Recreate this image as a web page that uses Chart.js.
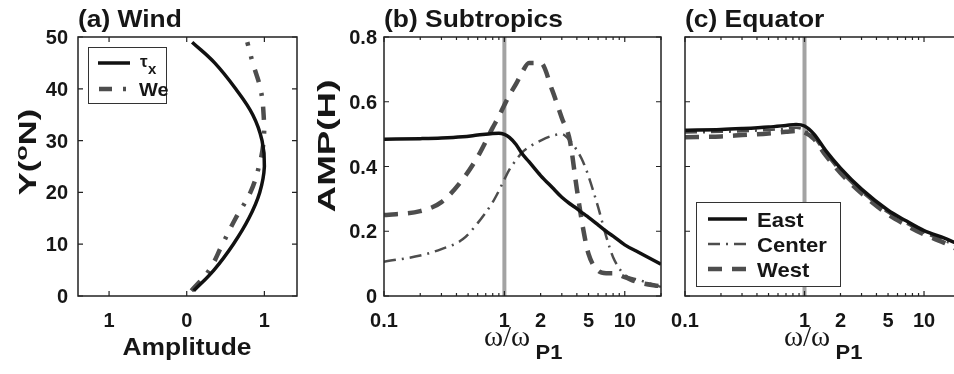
<!DOCTYPE html>
<html>
<head>
<meta charset="utf-8">
<script src="https://cdn.jsdelivr.net/npm/chart.js@4"></script>
<style>
  html, body { margin: 0; width: 954px; height: 374px; overflow: hidden; background: #fff; }
  canvas { position: absolute; top: 0; }
</style>
</head>
<body>
<canvas id="wind" width="310" height="374" style="left:0px"></canvas>
<canvas id="subtropics" width="370" height="374" style="left:300px"></canvas>
<canvas id="equator" width="300" height="374" style="left:670px"></canvas>
<script>
// (a) Wind profiles: amplitude vs latitude
const lat = [1, 5, 10, 15, 20, 25, 30, 35, 40, 45, 49];
const tauX = [0.09, 0.35, 0.6, 0.8, 0.94, 1.0, 0.97, 0.85, 0.63, 0.36, 0.07];
const we = [0.06, 0.29, 0.46, 0.63, 0.82, 0.93, 0.99, 0.99, 0.95, 0.85, 0.78];

// (b) Subtropics: AMP(H) vs omega/omega_P1
const freqSub = [0.1, 0.2, 0.3, 0.45, 0.6, 0.8, 0.9, 1, 1.1, 1.25, 1.4, 1.6, 2, 2.5, 3, 3.5, 4, 4.5, 5, 6, 7, 8, 10, 13, 20];
const subEast = [0.484, 0.486, 0.488, 0.492, 0.497, 0.502, 0.503, 0.499, 0.49, 0.468, 0.44, 0.415, 0.372, 0.335, 0.305, 0.285, 0.27, 0.255, 0.243, 0.22, 0.20, 0.185, 0.158, 0.135, 0.098];
const subCenter = [0.106, 0.125, 0.145, 0.175, 0.225, 0.29, 0.325, 0.36, 0.39, 0.42, 0.443, 0.46, 0.48, 0.495, 0.50, 0.48, 0.45, 0.415, 0.37, 0.275, 0.185, 0.12, 0.065, 0.05, 0.028];
const subWest = [0.25, 0.262, 0.29, 0.36, 0.43, 0.52, 0.555, 0.59, 0.62, 0.655, 0.69, 0.72, 0.72, 0.635, 0.55, 0.48, 0.33, 0.21, 0.13, 0.078, 0.07, 0.07, 0.058, 0.042, 0.03];

// (c) Equator
const freqEq = [0.1, 0.2, 0.3, 0.5, 0.7, 0.85, 1, 1.2, 1.5, 2, 3, 5, 7, 10, 15, 20];
const eqEast = [0.512, 0.514, 0.517, 0.522, 0.527, 0.530, 0.525, 0.50, 0.45, 0.395, 0.33, 0.265, 0.233, 0.202, 0.178, 0.158];
const eqCenter = [0.505, 0.507, 0.509, 0.513, 0.517, 0.52, 0.512, 0.49, 0.44, 0.385, 0.322, 0.258, 0.226, 0.195, 0.17, 0.15];
const eqWest = [0.49, 0.493, 0.497, 0.502, 0.507, 0.51, 0.505, 0.485, 0.435, 0.38, 0.317, 0.252, 0.22, 0.19, 0.163, 0.14];

// tick labels
const latTicks = [0, 10, 20, 30, 40, 50];
const ampTicks = [-1, 0, 1];
const ampTickLabels = ['1', '0', '1'];
const ampHTicks = [0, 0.2, 0.4, 0.6, 0.8];
const freqTicks = [0.1, 1, 2, 5, 10];
const freqMinor = [0.2, 0.3, 0.4, 0.5, 0.6, 0.7, 0.8, 0.9, 2, 3, 4, 5, 6, 7, 8, 9, 20];

const BLACK = '#111111';
const GRAY = '#4d4d4d';
const styles = {
  east: { borderColor: BLACK, borderWidth: 3.5, borderDash: [] },
  center: { borderColor: GRAY, borderWidth: 2.5, borderDash: [12, 6, 2, 6] },
  west: { borderColor: GRAY, borderWidth: 4.5, borderDash: [14, 10] },
  tau: { borderColor: BLACK, borderWidth: 3.5, borderDash: [] },
  we: { borderColor: GRAY, borderWidth: 4.5, borderDash: [13, 11, 3, 11] }
};

function pts(xs, ys) {
  return xs.map((x, i) => ({ x: x, y: ys[i] }));
}

function series(xs, ys, st) {
  return Object.assign({ data: pts(xs, ys), showLine: true, pointRadius: 0,
    cubicInterpolationMode: 'monotone', fill: false }, st);
}

function refLine() {
  return { data: [{ x: 1, y: 0 }, { x: 1, y: 0.8 }], showLine: true, pointRadius: 0,
    borderColor: '#a3a3a3', borderWidth: 4 };
}

// text helper: sx stretches along the text direction
function txt(ctx, s, x, y, font, align, sx, rot) {
  ctx.save();
  ctx.translate(x, y);
  if (rot) ctx.rotate(rot);
  ctx.scale(sx || 1, 1);
  ctx.font = font;
  ctx.textAlign = align || 'left';
  ctx.textBaseline = 'alphabetic';
  ctx.fillStyle = '#161616';
  ctx.fillText(s, 0, 0);
  ctx.restore();
}

function sample(ctx, x0, x1, y, st) {
  ctx.save();
  ctx.strokeStyle = st.borderColor;
  ctx.lineWidth = st.borderWidth;
  ctx.setLineDash(st.borderDash);
  ctx.beginPath();
  ctx.moveTo(x0, y);
  ctx.lineTo(x1, y);
  ctx.stroke();
  ctx.restore();
}

function omegaLabel(ctx, cx) {
  txt(ctx, 'ω/ω', cx - 1, 346, '29px "Liberation Serif"', 'center');
  txt(ctx, 'P1', cx + 41, 359, 'bold 20px "Liberation Sans"', 'center', 1.1);
}

function decor(cfg) {
  return {
    id: 'decor',
    afterDraw(chart) {
      const ctx = chart.ctx;
      const a = chart.chartArea;
      const xs = chart.scales.x, ys = chart.scales.y;
      ctx.save();
      // frame
      ctx.strokeStyle = '#222';
      ctx.lineWidth = 1.5;
      ctx.strokeRect(a.left, a.top, a.right - a.left, a.bottom - a.top);
      // inward ticks
      ctx.lineWidth = 1.2;
      ctx.beginPath();
      const xt = (v, len) => {
        const p = xs.getPixelForValue(v);
        ctx.moveTo(p, a.bottom); ctx.lineTo(p, a.bottom - len);
        ctx.moveTo(p, a.top); ctx.lineTo(p, a.top + len);
      };
      const yt = v => {
        const p = ys.getPixelForValue(v);
        ctx.moveTo(a.left, p); ctx.lineTo(a.left + 5, p);
        ctx.moveTo(a.right, p); ctx.lineTo(a.right - 5, p);
      };
      cfg.xMajor.forEach(v => xt(v, 5));
      (cfg.xMinor || []).forEach(v => xt(v, 3));
      cfg.yMajor.forEach(yt);
      ctx.stroke();
      ctx.restore();

      const tickFont = 'bold 20px "Liberation Sans"';
      cfg.xLabels.forEach((s, i) => {
        txt(ctx, s, xs.getPixelForValue(cfg.xLabelVals[i]), 327, tickFont, 'center');
      });
      if (cfg.yLabels) {
        cfg.yLabels.forEach((s, i) => {
          txt(ctx, s, a.left - cfg.yGap, ys.getPixelForValue(cfg.yLabelVals[i]) + 7, tickFont, 'right');
        });
      }
      txt(ctx, cfg.title, a.left, 27, 'bold 24px "Liberation Sans"', 'left', 1.1);
      cfg.extra(ctx, a, xs, ys);
    }
  };
}

function makeChart(id, datasets, xScale, yScale, pad, cfg) {
  return new Chart(document.getElementById(id), {
    type: 'scatter',
    data: { datasets: datasets },
    options: {
      responsive: false,
      animation: false,
      layout: { padding: pad },
      plugins: { legend: { display: false }, tooltip: { enabled: false } },
      scales: {
        x: Object.assign({ display: false }, xScale),
        y: Object.assign({ display: false }, yScale)
      }
    },
    plugins: [decor(cfg)]
  });
}

// Panel (a)
makeChart('wind', [
  Object.assign({ data: pts(tauX, lat), showLine: true, pointRadius: 0, tension: 0.4 }, styles.tau),
  Object.assign({ data: pts(we, lat), showLine: true, pointRadius: 0, tension: 0.4 }, styles.we)
], { type: 'linear', min: -1.4, max: 1.42 }, { type: 'linear', min: 0, max: 50 },
{ left: 78, top: 37, right: 13, bottom: 78 }, {
  title: '(a) Wind',
  xMajor: ampTicks, yMajor: latTicks,
  xLabels: ampTickLabels, xLabelVals: ampTicks,
  yLabels: latTicks.map(String), yLabelVals: latTicks, yGap: 10,
  extra(ctx, a) {
    txt(ctx, 'Amplitude', 187, 355, 'bold 24px "Liberation Sans"', 'center', 1.1);
    // Y(oN) rotated
    ctx.save();
    ctx.translate(36, 152);
    ctx.rotate(-Math.PI / 2);
    ctx.scale(1.5, 1);
    ctx.fillStyle = '#161616';
    ctx.textBaseline = 'alphabetic';
    ctx.font = 'bold 23px "Liberation Sans"';
    const w1 = ctx.measureText('Y(').width;
    ctx.font = 'bold 17px "Liberation Sans"';
    const w2 = ctx.measureText('o').width;
    ctx.font = 'bold 23px "Liberation Sans"';
    const w3 = ctx.measureText('N)').width;
    let x = -(w1 + w2 + w3) / 2;
    ctx.fillText('Y(', x, 0); x += w1;
    ctx.font = 'bold 17px "Liberation Sans"';
    ctx.fillText('o', x, -9); x += w2;
    ctx.font = 'bold 23px "Liberation Sans"';
    ctx.fillText('N)', x, 0);
    ctx.restore();
    // legend
    ctx.save();
    ctx.fillStyle = '#fff';
    ctx.fillRect(88, 47, 78, 56);
    ctx.strokeStyle = '#333';
    ctx.lineWidth = 1;
    ctx.strokeRect(88.5, 47.5, 78, 56);
    ctx.restore();
    sample(ctx, 98, 130, 63, styles.tau);
    sample(ctx, 99, 130, 89, styles.we);
    txt(ctx, 'τ', 140, 67, 'bold 17px "Liberation Sans"', 'left');
    txt(ctx, 'x', 148, 74, 'bold 15px "Liberation Sans"', 'left');
    txt(ctx, 'We', 139, 96, 'bold 19px "Liberation Sans"', 'left', 1.05);
  }
});

// Panel (b)
makeChart('subtropics', [
  series(freqSub, subEast, styles.east),
  series(freqSub, subCenter, styles.center),
  series(freqSub, subWest, styles.west),
  refLine()
], { type: 'logarithmic', min: 0.1, max: 20 }, { type: 'linear', min: 0, max: 0.8 },
{ left: 84, top: 37, right: 9, bottom: 78 }, {
  title: '(b) Subtropics',
  xMajor: [0.1, 1, 10], xMinor: freqMinor, yMajor: ampHTicks,
  xLabels: freqTicks.map(String), xLabelVals: freqTicks,
  yLabels: ampHTicks.map(String), yLabelVals: ampHTicks, yGap: 7,
  extra(ctx, a) {
    txt(ctx, 'AMP(H)', 35, 146, 'bold 23px "Liberation Sans"', 'center', 1.6, -Math.PI / 2);
    omegaLabel(ctx, 208);
  }
});

// Panel (c)
makeChart('equator', [
  series(freqEq, eqEast, styles.east),
  series(freqEq, eqCenter, styles.center),
  series(freqEq, eqWest, styles.west),
  refLine()
], { type: 'logarithmic', min: 0.1, max: 20 }, { type: 'linear', min: 0, max: 0.8 },
{ left: 15, top: 37, right: 10, bottom: 78 }, {
  title: '(c) Equator',
  xMajor: [0.1, 1, 10], xMinor: freqMinor, yMajor: ampHTicks,
  xLabels: freqTicks.map(String), xLabelVals: freqTicks,
  extra(ctx, a) {
    omegaLabel(ctx, 138);
    ctx.save();
    ctx.fillStyle = '#fff';
    ctx.fillRect(26, 202, 144, 84);
    ctx.strokeStyle = '#333';
    ctx.lineWidth = 1;
    ctx.strokeRect(26.5, 202.5, 144, 84);
    ctx.restore();
    const rows = [['East', styles.east, 219], ['Center', styles.center, 244], ['West', styles.west, 269]];
    rows.forEach(r => {
      sample(ctx, 38, 77, r[2], r[1]);
      txt(ctx, r[0], 87, r[2] + 8, 'bold 21px "Liberation Sans"', 'left', 1.05);
    });
  }
});
</script>
</body>
</html>
